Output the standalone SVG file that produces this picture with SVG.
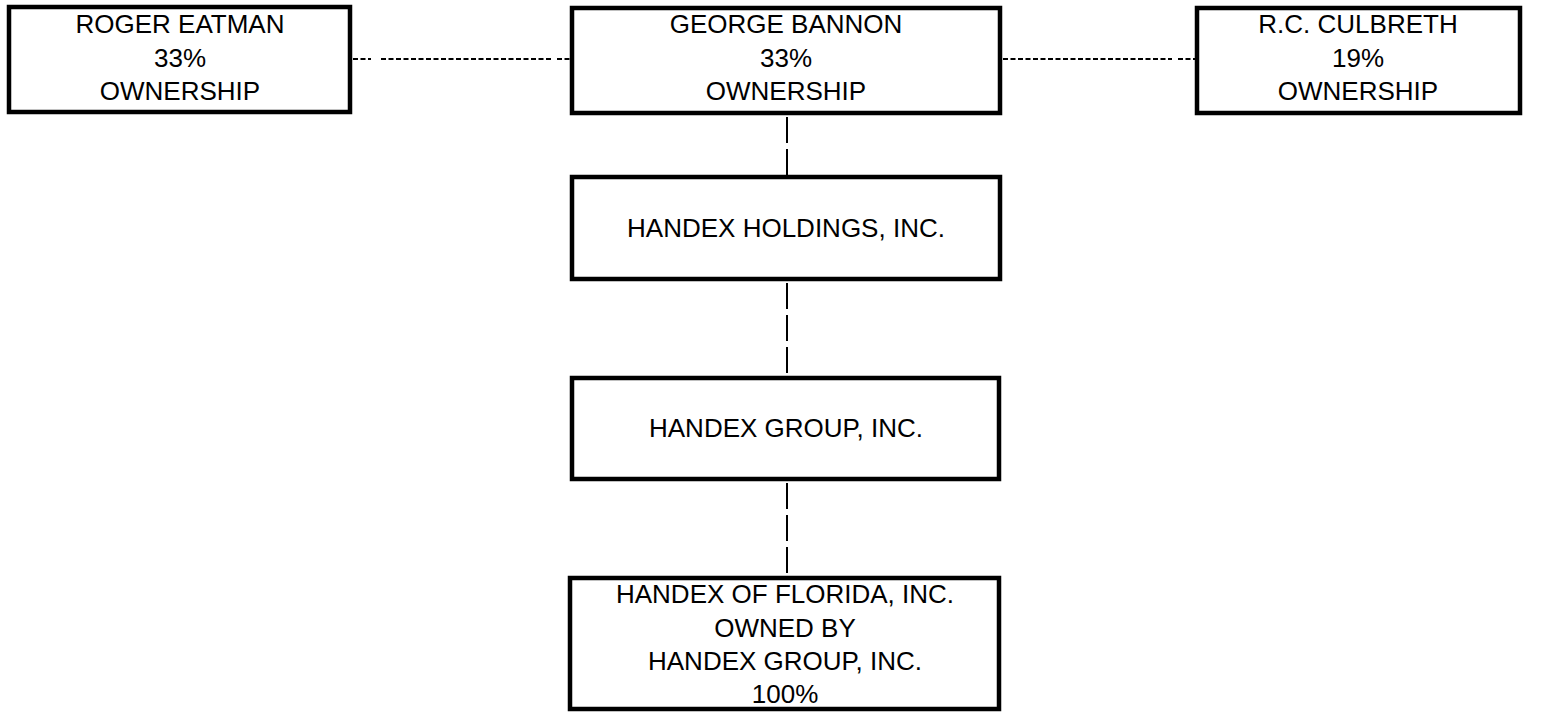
<svg xmlns="http://www.w3.org/2000/svg" width="1543" height="713" viewBox="0 0 1543 713">
<style>
.box{fill:#fff;stroke:#000;stroke-width:4.5}
.t{font-family:"Liberation Sans",Arial,sans-serif;font-size:26px;fill:#000;text-anchor:middle}
.h{stroke:#000;stroke-width:2;stroke-dasharray:5 2.5;fill:none}
.v{stroke:#000;stroke-width:2;stroke-dasharray:26 6;fill:none}
</style>
<rect width="1543" height="713" fill="#fff"/>
<g id="connectors">
<path class="h" d="M353 59H371M381 59H552M557 59H572"/>
<path class="h" d="M1003 59H1172M1178 59H1195"/>
<path class="v" d="M787 117V175"/>
<path class="v" d="M787 283V376"/>
<path class="v" d="M787 483V576"/>
</g>
<g id="roger">
<rect class="box" x="9" y="7" width="341" height="105"/>
<text class="t" x="180" y="33">ROGER EATMAN</text>
<text class="t" x="180" y="67">33%</text>
<text class="t" x="180" y="100">OWNERSHIP</text>
</g>
<g id="george">
<rect class="box" x="572" y="8" width="428" height="105"/>
<text class="t" x="786" y="33">GEORGE BANNON</text>
<text class="t" x="786" y="67">33%</text>
<text class="t" x="786" y="100">OWNERSHIP</text>
</g>
<g id="culbreth">
<rect class="box" x="1197" y="8" width="323" height="105"/>
<text class="t" x="1358" y="33">R.C. CULBRETH</text>
<text class="t" x="1358" y="67">19%</text>
<text class="t" x="1358" y="100">OWNERSHIP</text>
</g>
<g id="holdings">
<rect class="box" x="572" y="177" width="428" height="102"/>
<text class="t" x="786" y="237">HANDEX HOLDINGS, INC.</text>
</g>
<g id="group">
<rect class="box" x="572" y="378" width="427" height="101"/>
<text class="t" x="786" y="437">HANDEX GROUP, INC.</text>
</g>
<g id="florida">
<rect class="box" x="570" y="578" width="429" height="131"/>
<text class="t" x="785" y="603">HANDEX OF FLORIDA, INC.</text>
<text class="t" x="785" y="637">OWNED BY</text>
<text class="t" x="785" y="670">HANDEX GROUP, INC.</text>
<text class="t" x="785" y="703">100%</text>
</g>
</svg>
